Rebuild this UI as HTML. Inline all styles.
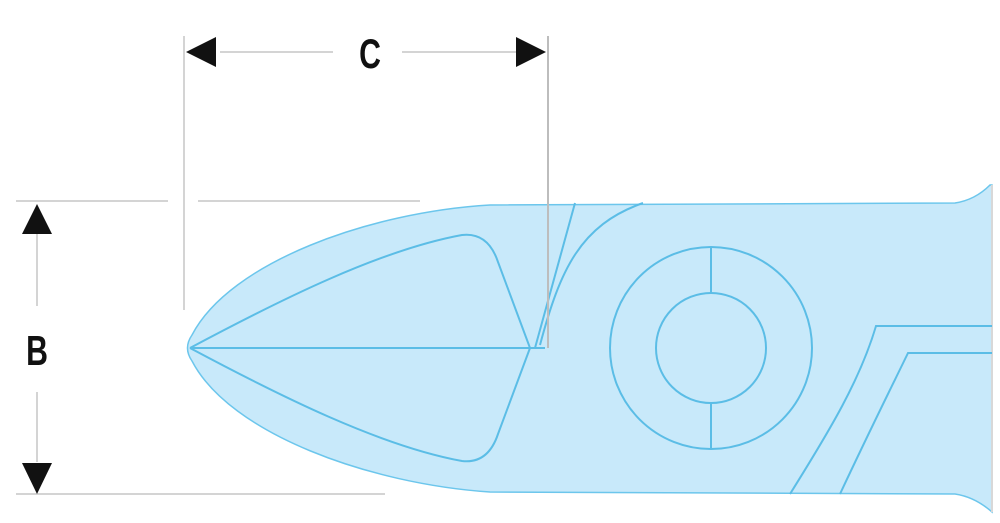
<!DOCTYPE html>
<html><head><style>body{margin:0;background:#fff}svg{display:block}</style></head><body>
<svg width="1000" height="523" viewBox="0 0 1000 523" xmlns="http://www.w3.org/2000/svg">
<g stroke="#d4d4d4" stroke-width="2" fill="none">
<line x1="184" y1="36" x2="184" y2="310"/>
<line x1="220" y1="52" x2="333" y2="52"/>
<line x1="402" y1="52" x2="516" y2="52"/>
<line x1="16" y1="201" x2="168" y2="201"/>
<line x1="198" y1="201" x2="420" y2="201"/>
<line x1="16" y1="494" x2="385" y2="494"/>
<line x1="37" y1="234" x2="37" y2="306"/>
<line x1="37" y1="392" x2="37" y2="462"/>
</g>
<path d="M990,185 Q975,200 955,203 L490,205 C370,212 230,262 192,335 Q183,348 192,361 C230,434 370,484 490,492 L955,494 Q975,497 992,512 L992,185 Z" fill="#c8e9fa" stroke="#6cc6ec" stroke-width="1.5"/>
<line x1="992" y1="185" x2="992" y2="512" stroke="#d8d8d8" stroke-width="2"/>
<g stroke="#5bbde6" stroke-width="2" fill="none">
<path d="M190,348 C280,300 380,250 462,235 Q488,232 498,262 L530,348 L545,348"/>
<path d="M190,348 C280,396 380,446 462,461 Q488,464 498,434 L530,348"/>
<line x1="190" y1="348" x2="530" y2="348"/>
<path d="M535,348 L575,203"/>
<path d="M540,345 C560,270 580,225 643,203"/>
<circle cx="711" cy="348" r="101"/>
<circle cx="711" cy="348" r="55"/>
<line x1="711" y1="247" x2="711" y2="293"/>
<line x1="711" y1="403" x2="711" y2="449"/>
<path d="M790,494 C830,430 860,380 876,326 L992,326"/>
<path d="M840,494 C870,430 890,390 908,353 L992,353"/>
</g>
<line x1="548" y1="36" x2="548" y2="348" stroke="#bdbdbd" stroke-width="2"/>
<g fill="#111">
<polygon points="186,52 216,37 216,67"/>
<polygon points="546,52 516,37 516,67"/>
<polygon points="37,204 22,234 52,234"/>
<polygon points="37,494 22,463 52,463"/>
</g>
<g font-family="Liberation Sans, sans-serif" font-size="42" font-weight="bold" fill="#111" text-anchor="middle">
<text x="370" y="68" transform="translate(370,0) scale(0.72,1) translate(-370,0)">C</text>
<text x="37" y="365" transform="translate(37,0) scale(0.72,1) translate(-37,0)">B</text>
</g>
</svg>
</body></html>
